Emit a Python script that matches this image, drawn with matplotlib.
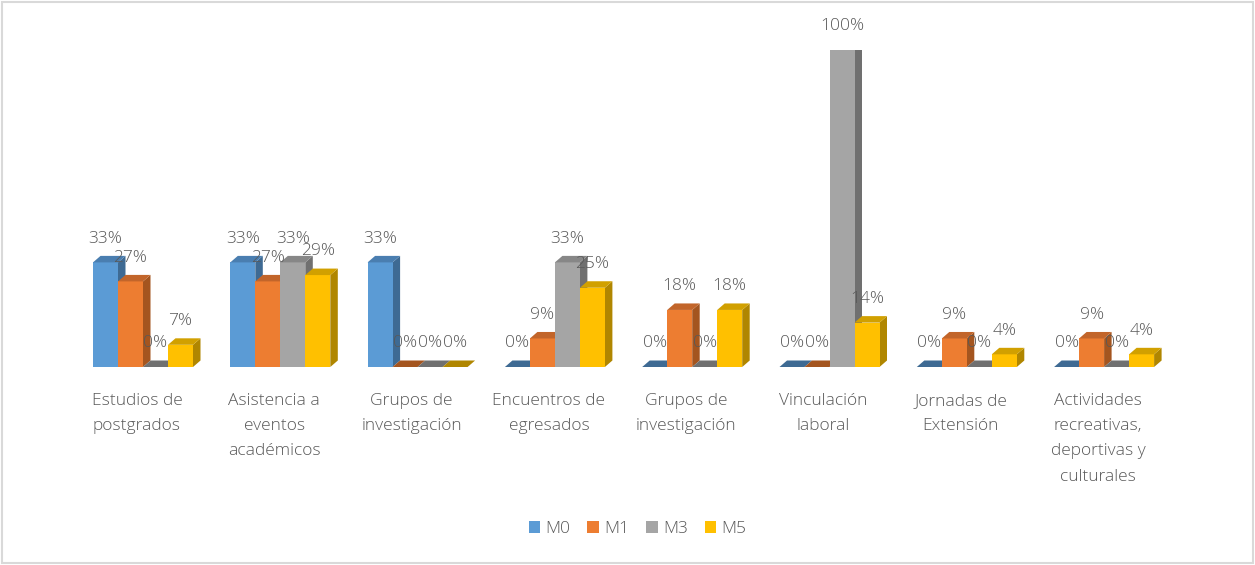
import matplotlib
matplotlib.use('Agg')
import matplotlib.pyplot as plt
from matplotlib.patches import Polygon, Rectangle, Patch

plt.rcParams['font.family'] = ['Open Sans', 'DejaVu Sans']
plt.rcParams['font.weight'] = 'light'

# data
categorias = ['Estudios de\npostgrados', 'Asistencia a\neventos\nacadémicos',
              'Grupos de\ninvestigación', 'Encuentros de\negresados',
              'Grupos de\ninvestigación', 'Vinculación\nlaboral',
              'Jornadas de\nExtensión', 'Actividades\nrecreativas,\ndeportivas y\nculturales']
series = ['M0', 'M1', 'M3', 'M5']
m0 = [33, 33, 33, 0, 0, 0, 0, 0]
m1 = [27, 27, 0, 9, 18, 0, 9, 9]
m3 = [0, 33, 0, 33, 0, 100, 0, 0]
m5 = [7, 29, 0, 25, 18, 14, 4, 4]
valores = [m0, m1, m3, m5]

frente = ['#5B9BD5', '#ED7D31', '#A5A5A5', '#FFC000']
arriba = ['#4A7EB0', '#C2652A', '#878787', '#D1A000']
lado = ['#3E6A93', '#A4551F', '#707070', '#B08600']
txt = '#595959'

W, H = 1255, 565
fig = plt.figure(figsize=(W / 100, H / 100), dpi=100)
paso = 137.3          # pixels per category
x0 = 137              # first category centre (px)
base = 367            # baseline (px from top)
tope = 50             # 100% (px from top)
ax = fig.add_axes([0, (H - base) / H, 1, (base - tope) / H])
ax.set_xlim(-x0 / paso, (W - x0) / paso)
ax.set_ylim(0, 100)

ancho = 25 / paso
dx = 7.5 / paso
dy = 6.5 / ((base - tope) / 100)
inicio = -44 / paso
fs = 12.5

for i in range(len(categorias)):
    for j, vals in enumerate(valores):
        v = vals[i]
        xl = i + inicio + j * ancho
        xr = xl + ancho
        if v > 0:
            ax.add_patch(Polygon([(xr, 0), (xr + dx, dy), (xr + dx, v + dy), (xr, v)],
                                 closed=True, fc=lado[j], ec='none', zorder=3))
            ax.add_patch(Rectangle((xl, 0), ancho, v, fc=frente[j], ec='none', zorder=3))
        ax.add_patch(Polygon([(xl, v), (xr, v), (xr + dx, v + dy), (xl + dx, v + dy)],
                             closed=True, fc=arriba[j] if v > 0 else lado[j],
                             ec='none', zorder=3))
        ax.text(xl + ancho / 2, v + 7.5, f'{v}%', ha='center', va='center',
                fontsize=fs, color=txt, zorder=5)

ax.set_xticks(range(len(categorias)))
ax.set_xticklabels(categorias, fontsize=fs, color=txt, linespacing=1.78, va='top')
ax.tick_params(axis='x', length=0, pad=18.5)
ax.set_yticks([])
for s in ax.spines.values():
    s.set_visible(False)
ax.patch.set_alpha(0)

handles = [Patch(fc=c, ec='none') for c in frente]
fig.legend(handles, series, loc='center', bbox_to_anchor=(0.508, 1 - 529 / H), ncol=4,
           frameon=False, fontsize=fs, handlelength=0.65, handleheight=0.65,
           handletextpad=0.3, columnspacing=1.0, labelcolor=txt)

fig.patches.append(Rectangle((2 / W, 2 / H), 1 - 4 / W, 1 - 4 / H, transform=fig.transFigure,
                             fill=False, ec='#D9D9D9', lw=1.5))

fig.savefig('out.png', dpi=100)
